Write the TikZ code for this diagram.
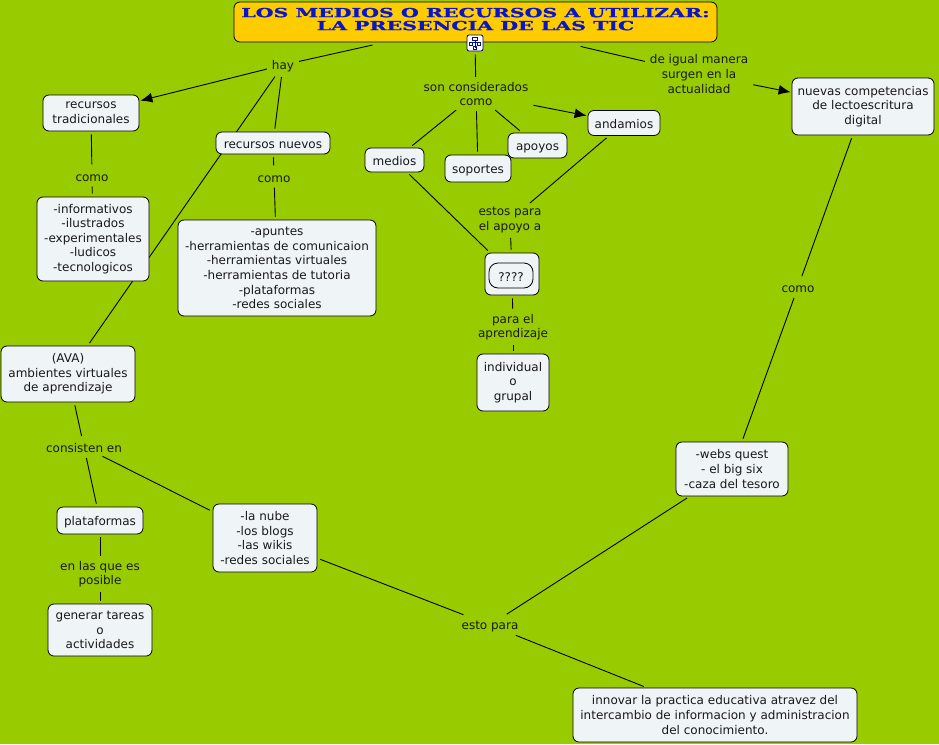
\documentclass[tikz,border=0pt]{standalone}
\usepackage{fontspec}
\setmainfont{DejaVu Sans}
\newfontfamily\titlefont[FakeStretch=1.64,BoldFeatures={FakeBold=1.2}]{DejaVu Serif}
\usetikzlibrary{arrows.meta,calc}
\pgfdeclarelayer{bgl}
\pgfdeclarelayer{edges}
\pgfsetlayers{bgl,edges,main}
\definecolor{bggreen}{HTML}{99CC00}
\definecolor{boxfill}{HTML}{EFF4F7}
\definecolor{titlefill}{HTML}{FFCC00}
\definecolor{titleblue}{HTML}{0A14C8}
\tikzset{
  x=1pt,y=-1pt,
  every node/.style={font=\fontsize{12}{14.6}\selectfont,align=center,text=black!90,execute at begin node={\rule{0pt}{11.5pt}}},
  cbox/.style={draw=black,line width=0.8pt,fill=boxfill,rounded corners=6pt,inner sep=0pt},
  lab/.style={inner sep=2pt},
  conn/.style={draw=black,line width=0.9pt,shorten <=3pt,shorten >=3pt},
  arr/.style={conn,-{Latex[length=12pt,width=10pt]},shorten >=1pt},
}
\begin{document}
\begin{tikzpicture}
\begin{pgfonlayer}{bgl}
\fill[bggreen] (0,0) rectangle (939,744);
\end{pgfonlayer}
\useasboundingbox (0,0) rectangle (939,744);
% title
\node[cbox,fill=titlefill,minimum width=483pt,minimum height=40pt,execute at begin node={},
  font=\titlefont\bfseries\fontsize{12.5}{13}\selectfont,text=titleblue] (title) at (475.5,22)
  {LOS MEDIOS O RECURSOS A UTILIZAR:\\LA PRESENCIA DE LAS TIC\\[-7pt]\mbox{}};
\node[draw=black!60!blue,line width=0.8pt,fill=white,rounded corners=2pt,minimum width=16pt,minimum height=16pt,inner sep=0pt] (icon) at (475,43) {};
\draw[titleblue!70!black,line width=0.8pt,fill=white]
  (472.5,37.5) rectangle (477.5,40.5)
  (475,40.5) -- (475,47.5)
  (471,42.5) -- (479,42.5)
  (469.5,42.5) rectangle (472.5,45.5)
  (477.5,42.5) rectangle (480.5,45.5)
  (473.5,46.5) rectangle (476.5,49);
% boxes
\node[cbox,minimum width=96pt,minimum height=36pt] (trad) at (91,113) {recursos\\tradicionales};
\node[cbox,minimum width=114pt,minimum height=22pt] (nuevos) at (273,143) {recursos nuevos};
\node[cbox,minimum width=112pt,minimum height=84pt] (info) at (93,239) {-informativos\\-ilustrados\\-experimentales\\-ludicos\\-tecnologicos};
\node[cbox,minimum width=198pt,minimum height=96pt] (apuntes) at (277,268) {-apuntes\\-herramientas de comunicaion\\-herramientas virtuales\\-herramientas de tutoria\\-plataformas\\-redes sociales};
\node[cbox,minimum width=59pt,minimum height=24pt] (medios) at (394.5,160) {medios};
\node[cbox,minimum width=66pt,minimum height=27pt] (soportes) at (478,168.5) {soportes};
\node[cbox,minimum width=59pt,minimum height=25pt] (apoyos) at (537.5,145.5) {apoyos};
\node[cbox,minimum width=72pt,minimum height=25pt] (andamios) at (624,123) {andamios};
\node[cbox,minimum width=142pt,minimum height=57pt] (nuevas) at (863,106.5) {nuevas competencias\\de lectoescritura\\digital};
\node[cbox,minimum width=54pt,minimum height=42pt] (labs) at (512,274) {};
\node (labstext) at (512,266.5) {LABS};
\node[cbox,rounded corners=9pt,minimum width=44pt,minimum height=25pt] (incogn) at (511,275.5) {????};
\node[cbox,minimum width=72pt,minimum height=57pt] (indiv) at (513,382.5) {individual\\o\\grupal};
\node[cbox,minimum width=134pt,minimum height=56pt] (ava) at (68,374) {(AVA)\\ambientes virtuales\\de aprendizaje};
\node[cbox,minimum width=86pt,minimum height=27pt] (plat) at (100,520.5) {plataformas};
\node[cbox,minimum width=104pt,minimum height=52pt] (generar) at (100,630) {generar tareas\\o\\actividades};
\node[cbox,minimum width=104pt,minimum height=68pt] (nube) at (265,538) {-la nube\\-los blogs\\-las wikis\\-redes sociales};
\node[cbox,minimum width=112pt,minimum height=54pt] (webs) at (732,469) {-webs quest\\- el big six\\-caza del tesoro};
\node[cbox,minimum width=284pt,minimum height=54pt] (innovar) at (715,715) {innovar la practica educativa atravez del\\intercambio de informacion y administracion\\del conocimiento.};
% link labels
\node[lab] (hay) at (283,65) {hay};
\node[lab] (como1) at (92,175.5) {como};
\node[lab] (como2) at (274,176.5) {como};
\node[lab] (son) at (476,94) {son considerados\\como};
\node[lab] (estos) at (510,220) {estos para\\el apoyo a};
\node[lab] (para) at (513,327) {para el\\aprendizaje};
\node[lab] (igual) at (699,74) {de igual manera\\surgen en la\\actualidad};
\node[lab] (como3) at (798,287) {como};
\node[lab] (consisten) at (84,447) {consisten en};
\node[lab] (enlas) at (100,574) {en las que es\\posible};
\node[lab] (esto) at (490,625) {esto para};
% connectors
\begin{pgfonlayer}{edges}
\draw[conn,shorten <=12pt] (title) -- (hay);
\draw[arr] (hay) -- (trad);
\draw[conn] (hay) -- (nuevos);
\draw[conn] (hay) -- (ava);
\draw[conn] (trad) -- (como1);
\draw[conn] (como1) -- (info);
\draw[conn] (nuevos) -- (como2);
\draw[conn] (como2) -- (apuntes);
\draw[conn] (icon) -- (son);
\draw[conn] (son) -- (medios);
\draw[conn] (son) -- (soportes);
\draw[conn] (son) -- (apoyos);
\draw[arr] (son) -- (andamios);
\draw[conn] (medios) -- (labs);
\draw[conn] (andamios) -- (estos);
\draw[conn] (estos) -- (labs);
\draw[conn] (labs) -- (para);
\draw[conn] (para) -- (indiv);
\draw[conn,shorten <=18pt] (title) -- (igual);
\draw[arr] (igual) -- (nuevas);
\draw[conn] (nuevas) -- (como3);
\draw[conn] (como3) -- (webs);
\draw[conn] (webs) -- (esto);
\draw[conn] (nube) -- (esto);
\draw[conn] (esto) -- (innovar);
\draw[conn] (ava) -- (consisten);
\draw[conn] (consisten) -- (plat);
\draw[conn] (consisten) -- (nube);
\draw[conn] (plat) -- (enlas);
\draw[conn] (enlas) -- (generar);
\end{pgfonlayer}
\end{tikzpicture}
\end{document}
